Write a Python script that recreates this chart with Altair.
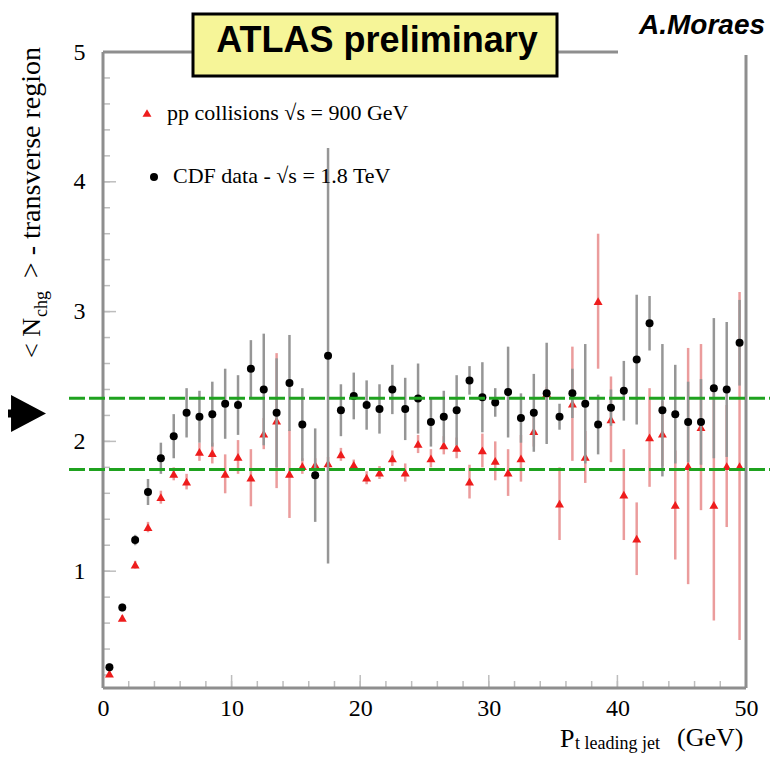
import altair as alt
import pandas as pd

# ---------------- data ----------------
pt_bins = [0.5, 1.5, 2.5, 3.5, 4.5, 5.5, 6.5, 7.5, 8.5, 9.5,
           10.5, 11.5, 12.5, 13.5, 14.5, 15.5, 16.5, 17.5, 18.5, 19.5,
           20.5, 21.5, 22.5, 23.5, 24.5, 25.5, 26.5, 27.5, 28.5, 29.5,
           30.5, 31.5, 32.5, 33.5, 34.5, 35.5, 36.5, 37.5, 38.5, 39.5,
           40.5, 41.5, 42.5, 43.5, 44.5, 45.5, 46.5, 47.5, 48.5, 49.5]

cdf_mean = [0.26, 0.72, 1.24, 1.61, 1.87, 2.04, 2.22, 2.19, 2.21, 2.29,
            2.28, 2.56, 2.40, 2.22, 2.45, 2.13, 1.74, 2.66, 2.24, 2.35,
            2.28, 2.25, 2.40, 2.25, 2.33, 2.15, 2.19, 2.24, 2.47, 2.34,
            2.30, 2.38, 2.18, 2.22, 2.37, 2.19, 2.37, 2.29, 2.13, 2.26,
            2.39, 2.63, 2.91, 2.24, 2.21, 2.15, 2.15, 2.41, 2.40, 2.76]
cdf_err = [0.03, 0.03, 0.04, 0.10, 0.12, 0.17, 0.19, 0.20, 0.25, 0.27,
           0.23, 0.22, 0.43, 0.42, 0.37, 0.28, 0.36, 1.60, 0.20, 0.18,
           0.19, 0.19, 0.19, 0.24, 0.27, 0.19, 0.20, 0.27, 0.11, 0.27,
           0.11, 0.35, 0.19, 0.30, 0.39, 0.10, 0.19, 0.46, 0.23, 0.14,
           0.23, 0.50, 0.21, 0.51, 0.38, 0.31, 0.33, 0.54, 0.52, 0.33]

atlas_mean = [0.21, 0.64, 1.05, 1.34, 1.57, 1.75, 1.69, 1.92, 1.91, 1.75,
              1.88, 1.72, 2.06, 2.16, 1.75, 1.81, 1.82, 1.83, 1.90, 1.82,
              1.72, 1.76, 1.87, 1.76, 1.98, 1.87, 1.97, 1.95, 1.69, 1.93,
              1.85, 1.76, 1.87, 2.08, 2.37, 1.52, 2.29, 1.88, 3.08, 2.17,
              1.59, 1.25, 2.03, 2.06, 1.51, 1.81, 2.11, 1.51, 1.81, 1.81]
atlas_err = [0.02, 0.02, 0.03, 0.04, 0.05, 0.05, 0.06, 0.07, 0.08, 0.15,
             0.13, 0.22, 0.12, 0.52, 0.34, 0.06, 0.05, 0.05, 0.05, 0.04,
             0.05, 0.05, 0.06, 0.07, 0.07, 0.07, 0.07, 0.08, 0.13, 0.13,
             0.15, 0.18, 0.18, 0.12, 0.05, 0.28, 0.44, 0.20, 0.52, 0.33,
             0.35, 0.28, 0.38, 0.25, 0.42, 0.91, 0.64, 0.89, 0.47, 1.34]

plateau_levels = [2.333, 1.784]
x_tick_labels = [0, 10, 20, 30, 40, 50]
y_tick_labels = [1, 2, 3, 4, 5]
x_minor_ticks = [0, 2, 4, 6, 8, 10, 12, 14, 16, 18, 20, 22, 24, 26, 28, 30,
                 32, 34, 36, 38, 40, 42, 44, 46, 48, 50]
y_minor_ticks = [0.2, 0.4, 0.6, 0.8, 1.0, 1.2, 1.4, 1.6, 1.8, 2.0, 2.2, 2.4,
                 2.6, 2.8, 3.0, 3.2, 3.4, 3.6, 3.8, 4.0, 4.2, 4.4, 4.6, 4.8, 5.0]

legend_atlas = "pp collisions √s = 900 GeV"
legend_cdf = "CDF data - √s = 1.8 TeV"

# ---------------- styling ----------------
SERIF = "Liberation Serif"
SANS = "Liberation Sans"
FRAME = "#8e8e8e"
TICK = "#bdbdbd"
GREEN = "#1fa21f"
RED = "#ee1c1c"
RED_BAR = "#eb9c9c"
GREY_BAR = "#969696"

W, H = 643, 636

xscale = alt.Scale(domain=[0, 50], nice=False, zero=False)
yscale = alt.Scale(domain=[0.1, 5], nice=False, zero=False)
xaxis = alt.Axis(values=x_tick_labels, title=None, format="d", labelFont=SERIF,
                 labelFontSize=24, labelColor="black", labelPadding=8,
                 labelFlush=False, ticks=False, domain=False, grid=False)
yaxis = alt.Axis(values=y_tick_labels, title=None, format="d", labelFont=SERIF,
                 labelFontSize=24, labelColor="black", labelPadding=18,
                 ticks=False, domain=False, grid=False)


def X(f):
    return alt.X(f, type="quantitative", scale=xscale, axis=xaxis)


def Y(f):
    return alt.Y(f, type="quantitative", scale=yscale, axis=yaxis)


df = pd.DataFrame({
    "pt": pt_bins,
    "cdf": cdf_mean,
    "cdf_lo": [m - e for m, e in zip(cdf_mean, cdf_err)],
    "cdf_hi": [m + e for m, e in zip(cdf_mean, cdf_err)],
    "atlas": atlas_mean,
    "atlas_lo": [m - e for m, e in zip(atlas_mean, atlas_err)],
    "atlas_hi": [m + e for m, e in zip(atlas_mean, atlas_err)],
})
one = pd.DataFrame({"k": [0]})

base = alt.Chart(df)

atlas_bars = base.mark_rule(color=RED_BAR, strokeWidth=2.5).encode(
    x=X("pt"), y=Y("atlas_lo"), y2=alt.Y2("atlas_hi"))
atlas_pts = base.mark_point(shape="triangle-up", filled=True, size=80, color=RED,
                            opacity=1, strokeWidth=0).encode(x=X("pt"), y=Y("atlas"))
cdf_bars = base.mark_rule(color=GREY_BAR, strokeWidth=2.5).encode(
    x=X("pt"), y=Y("cdf_lo"), y2=alt.Y2("cdf_hi"))
cdf_pts = base.mark_circle(size=64, color="black", opacity=1).encode(
    x=X("pt"), y=Y("cdf"))

# ticks drawn inside the frame (ROOT style)
xt_minor = alt.Chart(pd.DataFrame({"v": x_minor_ticks})).mark_rule(
    color=TICK, strokeWidth=1.5).encode(x=X("v"), y=alt.value(H), y2=alt.value(H - 7))
xt_major = alt.Chart(pd.DataFrame({"v": x_tick_labels})).mark_rule(
    color=TICK, strokeWidth=1.5).encode(x=X("v"), y=alt.value(H), y2=alt.value(H - 13))
yt_minor = alt.Chart(pd.DataFrame({"v": y_minor_ticks})).mark_rule(
    color=TICK, strokeWidth=1.5).encode(y=Y("v"), x=alt.value(0), x2=alt.value(7))
yt_major = alt.Chart(pd.DataFrame({"v": y_tick_labels})).mark_rule(
    color=TICK, strokeWidth=1.5).encode(y=Y("v"), x=alt.value(0), x2=alt.value(13))

# frame
fr = alt.Chart(one)
frame_left = fr.mark_rule(color=FRAME, strokeWidth=3).encode(
    x=alt.value(0), y=alt.value(0), y2=alt.value(H))
frame_bottom = fr.mark_rule(color=FRAME, strokeWidth=3).encode(
    x=alt.value(0), x2=alt.value(W), y=alt.value(H))
frame_top = fr.mark_rule(color=FRAME, strokeWidth=3).encode(
    x=alt.value(0), x2=alt.value(515), y=alt.value(0))
frame_right = fr.mark_rule(color=FRAME, strokeWidth=3).encode(
    x=alt.value(W), y=alt.value(3), y2=alt.value(H))

# plateau lines
green = alt.Chart(pd.DataFrame({"level": plateau_levels})).mark_rule(
    color=GREEN, strokeWidth=3, strokeDash=[16, 4]).encode(
    y=Y("level"), x=alt.value(-34), x2=alt.value(670))

# title box
box = fr.mark_rect(fill="#f6f598", stroke="black", strokeWidth=3).encode(
    x=alt.value(90), x2=alt.value(454), y=alt.value(-38), y2=alt.value(24))
box_text = fr.mark_text(text="ATLAS preliminary", font=SANS, fontSize=36,
                        fontWeight="bold", align="center", baseline="alphabetic",
                        color="black").encode(x=alt.value(274), y=alt.value(0))
author = fr.mark_text(text="A.Moraes", font=SANS, fontSize=28, fontWeight="bold",
                      fontStyle="italic", align="left", baseline="alphabetic",
                      color="black").encode(x=alt.value(536), y=alt.value(-18))

# legend
leg_red = fr.mark_point(shape="triangle-up", filled=True, size=80, color=RED,
                        opacity=1, strokeWidth=0).encode(x=alt.value(44), y=alt.value(61))
leg_black = fr.mark_circle(size=64, color="black", opacity=1).encode(
    x=alt.value(51), y=alt.value(125))
leg_t1 = fr.mark_text(text=legend_atlas, font=SERIF, fontSize=22, align="left",
                      baseline="alphabetic", color="black").encode(
    x=alt.value(64), y=alt.value(68))
leg_t2 = fr.mark_text(text=legend_cdf, font=SERIF, fontSize=22, align="left",
                      baseline="alphabetic", color="black").encode(
    x=alt.value(70), y=alt.value(131))

# axis titles (with subscripts)
yt1 = fr.mark_text(text="< N", font=SERIF, fontSize=26, angle=270, align="left",
                   baseline="alphabetic", color="black").encode(
    x=alt.value(-63), y=alt.value(306))
yt2 = fr.mark_text(text="chg", font=SERIF, fontSize=18, angle=270, align="left",
                   baseline="alphabetic", color="black").encode(
    x=alt.value(-56), y=alt.value(265))
yt3 = fr.mark_text(text="> - transverse region", font=SERIF, fontSize=28, angle=270,
                   align="right", baseline="alphabetic", color="black").encode(
    x=alt.value(-63), y=alt.value(-5))
xt1 = fr.mark_text(text="P", font=SERIF, fontSize=26, align="left",
                   baseline="alphabetic", color="black").encode(
    x=alt.value(457), y=alt.value(695))
xt2 = fr.mark_text(text="t leading jet", font=SERIF, fontSize=18, align="left",
                   baseline="alphabetic", color="black").encode(
    x=alt.value(472), y=alt.value(697))
xt3 = fr.mark_text(text="(GeV)", font=SERIF, fontSize=26, align="left",
                   baseline="alphabetic", color="black").encode(
    x=alt.value(574), y=alt.value(694))

# arrow on the left
ARROW = "M -1 -0.174 L -0.52 -0.174 L -0.52 -0.8 L 1 0 L -0.52 0.8 L -0.52 0.174 L -1 0.174 Z"
arrow = fr.mark_point(shape=ARROW, filled=True, size=2116, color="black", opacity=1,
                      strokeWidth=0).encode(x=alt.value(-80), y=alt.value(361.5))

chart = alt.layer(
    xt_minor, xt_major, yt_minor, yt_major,
    atlas_bars, atlas_pts, cdf_bars, cdf_pts,
    frame_left, frame_bottom, frame_top, frame_right,
    green,
    box, box_text, author,
    leg_red, leg_black, leg_t1, leg_t2,
    yt1, yt2, yt3, xt1, xt2, xt3,
    arrow,
).properties(
    width=W, height=H,
    autosize=alt.AutoSizeParams(type="none"),
    padding={"left": 95, "top": 44, "right": 24, "bottom": 65},
    background="white",
).configure_view(stroke=None)

chart.save("out.html", embed_options={"renderer": "svg", "actions": False})
